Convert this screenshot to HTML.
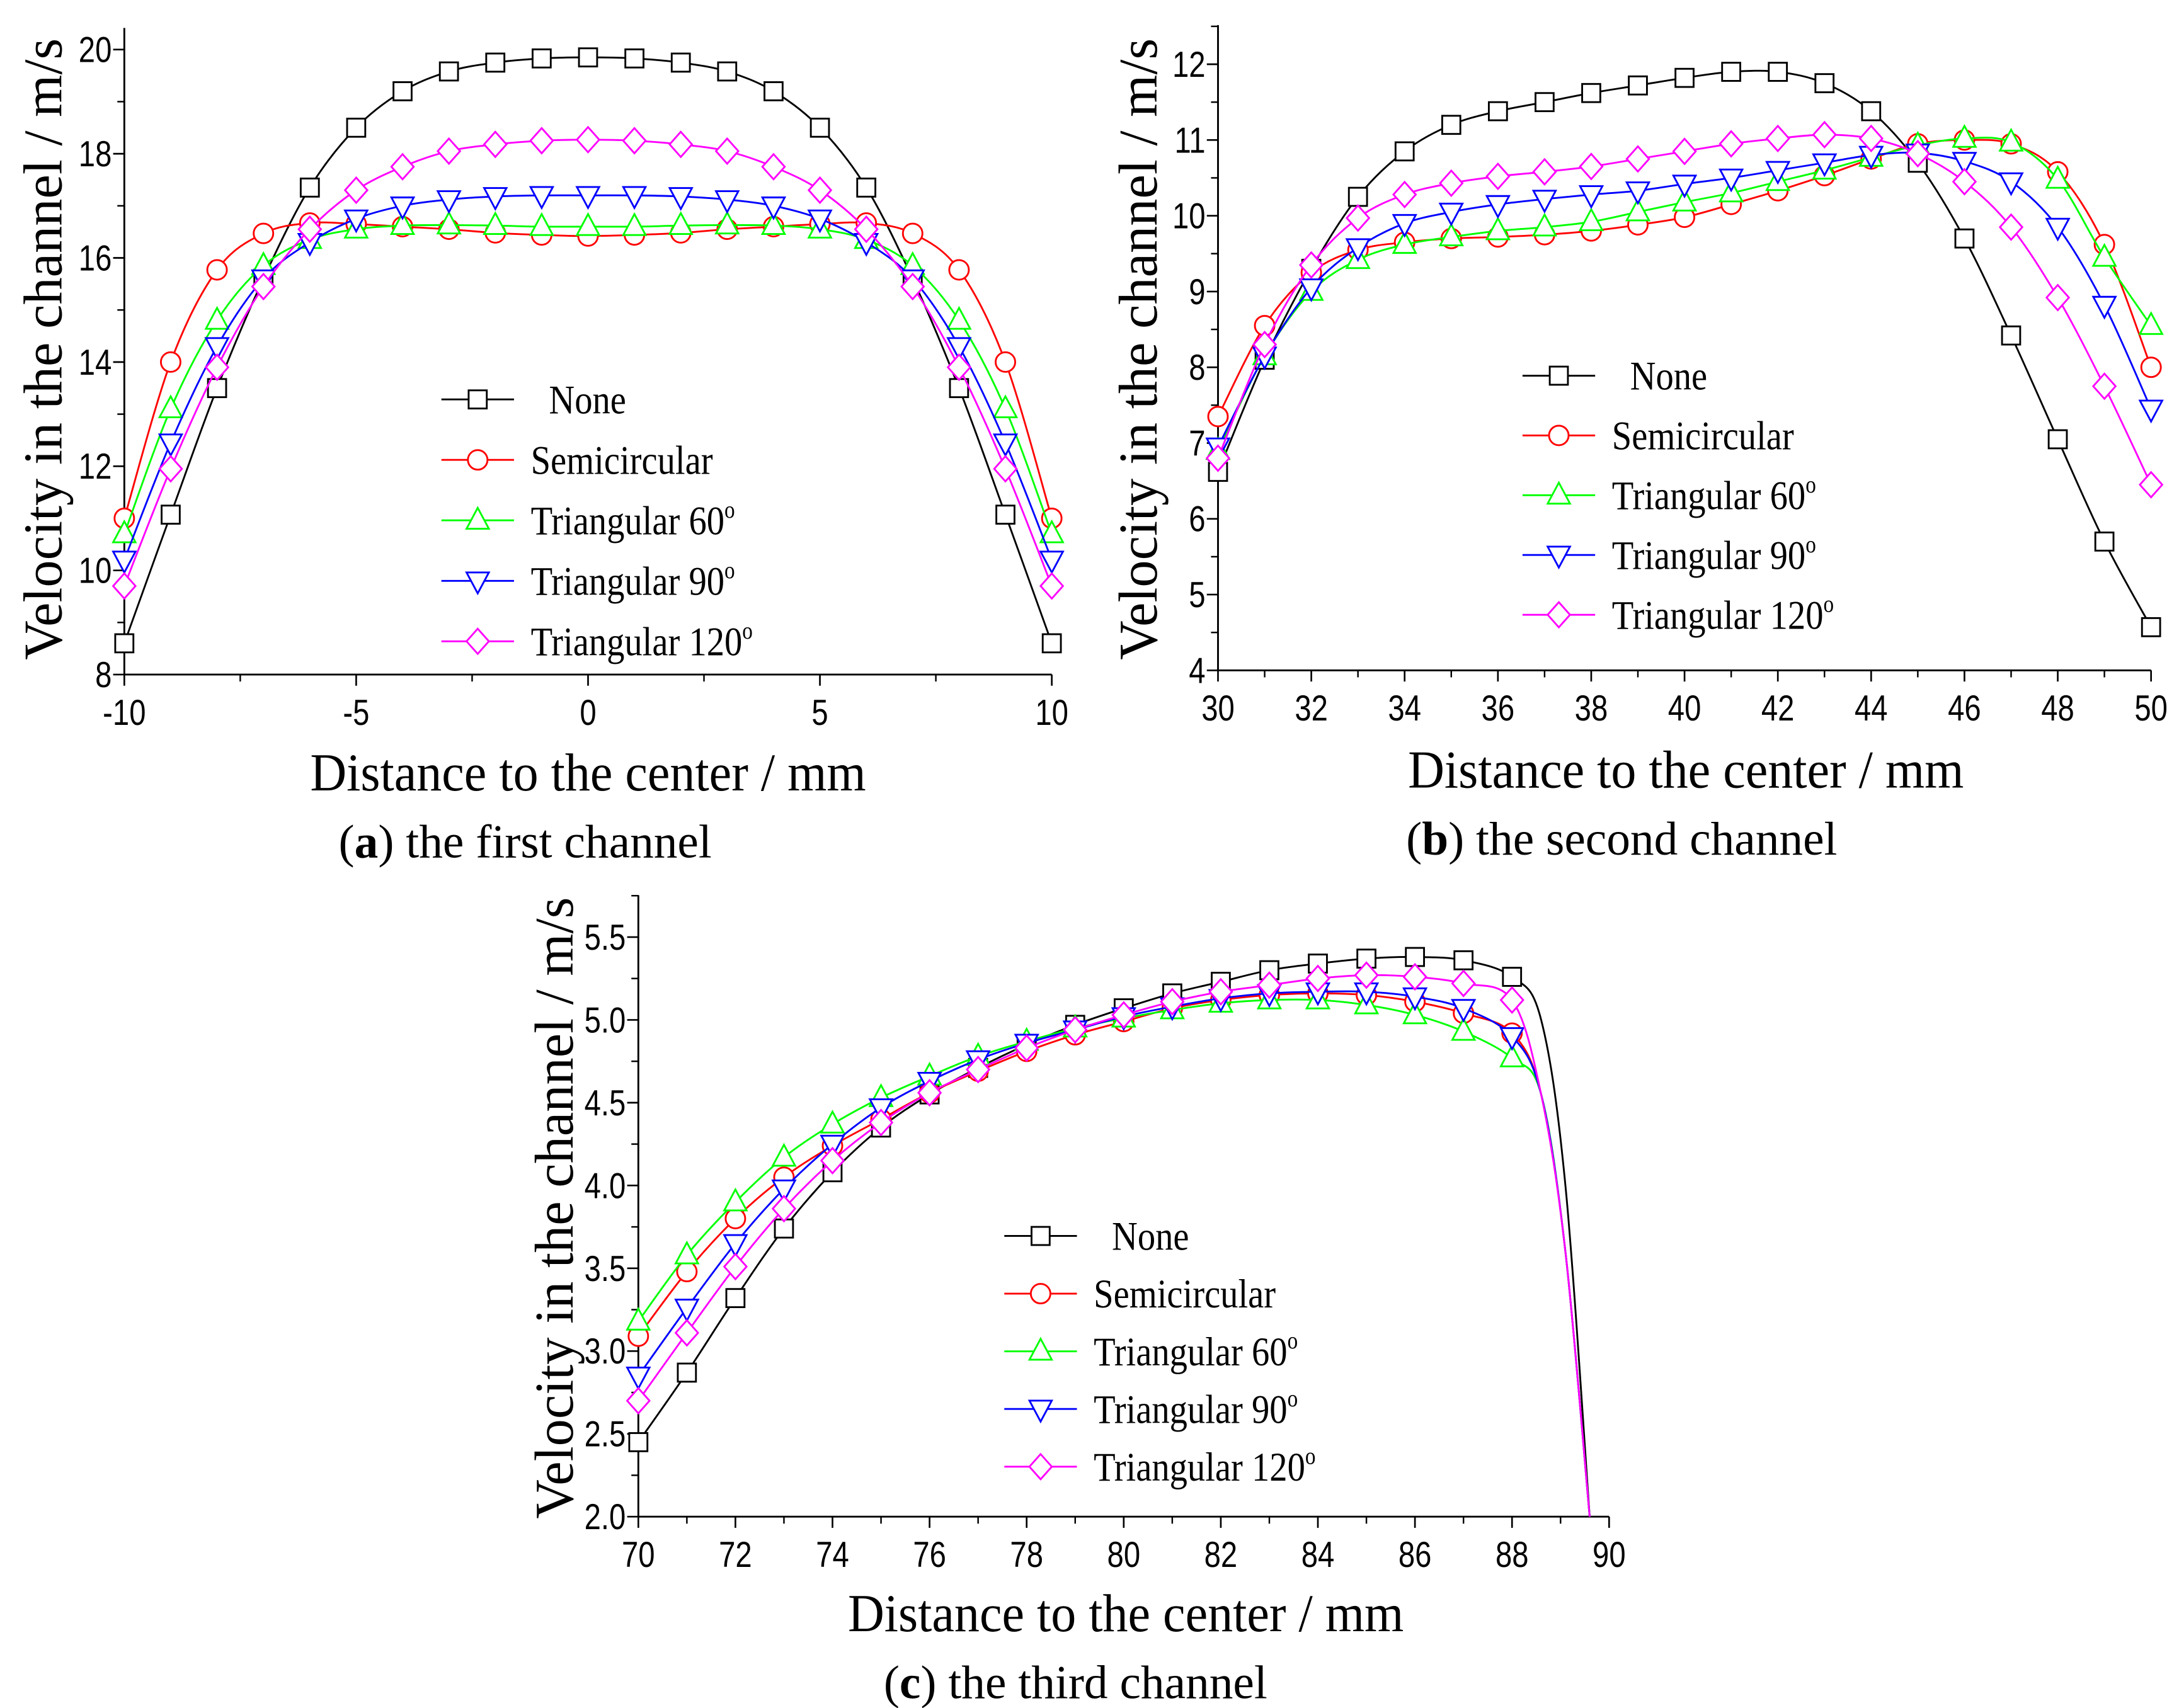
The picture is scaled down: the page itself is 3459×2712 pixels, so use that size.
<!DOCTYPE html>
<html><head><meta charset="utf-8"><style>
html,body{margin:0;padding:0;background:#fff;}
svg{display:block;}
.tick{font-family:"Liberation Sans",sans-serif;font-size:26px;}
.ttl{font-family:"Liberation Serif",serif;font-size:39px;}
.xttl{font-family:"Liberation Serif",serif;font-size:38px;}
.cap{font-family:"Liberation Serif",serif;font-size:34px;}
.leg{font-family:"Liberation Serif",serif;font-size:29px;}
</style></head><body>
<svg id="fig" width="3459" height="2712" viewBox="0 0 1560 1223" preserveAspectRatio="none" xmlns="http://www.w3.org/2000/svg"></svg>
<script>
// ---------- data ----------
const seriesNames = ["None","Semicircular","Triangular 60","Triangular 90","Triangular 120"];
const seriesColors = ["#000","#f00","#0f0","#00f","#f0f"];
const seriesMarkers = ["square","circle","tri-up","tri-down","diamond"];

const xA = [-10,-9,-8,-7,-6,-5,-4,-3,-2,-1,0,1,2,3,4,5,6,7,8,9,10];
const noneA = [8.6,11.07,13.5,15.6,17.35,18.5,19.2,19.58,19.75,19.83,19.85,19.83,19.75,19.58,19.2,18.5,17.35,15.6,13.5,11.07,8.6];
const semiA = [11.0,14.0,15.77,16.47,16.67,16.65,16.6,16.55,16.48,16.44,16.42,16.44,16.48,16.55,16.6,16.65,16.67,16.47,15.77,14.0,11.0];
const tri60A = [10.7,13.1,14.8,15.85,16.35,16.55,16.62,16.63,16.62,16.6,16.6,16.6,16.62,16.63,16.62,16.55,16.35,15.85,14.8,13.1,10.7];
const tri90A = [10.2,12.45,14.3,15.6,16.3,16.75,17.0,17.12,17.18,17.2,17.2,17.2,17.18,17.12,17.0,16.75,16.3,15.6,14.3,12.45,10.2];
const tri120A = [9.7,11.95,13.9,15.45,16.55,17.3,17.75,18.05,18.18,18.25,18.27,18.25,18.18,18.05,17.75,17.3,16.55,15.45,13.9,11.95,9.7];
const xTicksA = [-10,-5,0,5,10];
const yTicksA = [8,10,12,14,16,18,20];

const xB = [30,31,32,33,34,35,36,37,38,39,40,41,42,43,44,45,46,47,48,49,50];
const noneB = [6.62,8.1,9.3,10.25,10.85,11.2,11.38,11.5,11.62,11.72,11.82,11.9,11.9,11.75,11.38,10.7,9.7,8.42,7.05,5.7,4.57];
const semiB = [7.35,8.55,9.25,9.55,9.65,9.7,9.72,9.75,9.8,9.88,9.98,10.15,10.33,10.53,10.75,10.95,11.0,10.95,10.58,9.62,8.0];
const tri60B = [6.9,8.15,9.0,9.42,9.62,9.72,9.8,9.85,9.92,10.05,10.18,10.3,10.45,10.6,10.77,10.93,11.02,10.97,10.48,9.45,8.55];
const tri90B = [6.95,8.15,9.05,9.58,9.9,10.05,10.15,10.22,10.28,10.33,10.42,10.5,10.6,10.7,10.8,10.83,10.72,10.45,9.85,8.82,7.45];
const tri120B = [6.8,8.3,9.35,9.97,10.28,10.43,10.52,10.58,10.65,10.75,10.85,10.95,11.02,11.07,11.02,10.82,10.45,9.85,8.92,7.75,6.45];
const xTicksB = [30,32,34,36,38,40,42,44,46,48,50];
const yTicksB = [4,5,6,7,8,9,10,11,12];

const xC = [70,71,72,73,74,75,76,77,78,79,80,81,82,83,84,85,86,87,88];
const noneC = [2.45,2.87,3.32,3.74,4.08,4.35,4.55,4.71,4.85,4.97,5.07,5.16,5.23,5.3,5.34,5.37,5.38,5.36,5.26];
const semiC = [3.09,3.48,3.8,4.05,4.24,4.4,4.56,4.69,4.81,4.91,4.99,5.07,5.12,5.15,5.16,5.15,5.11,5.04,4.92];
const tri60C = [3.18,3.58,3.9,4.17,4.37,4.53,4.66,4.78,4.87,4.95,5.01,5.06,5.1,5.12,5.12,5.09,5.03,4.93,4.77];
const tri90C = [2.85,3.26,3.65,3.98,4.25,4.47,4.63,4.76,4.86,4.94,5.02,5.08,5.13,5.16,5.17,5.17,5.14,5.07,4.9];
const tri120C = [2.7,3.11,3.51,3.86,4.15,4.38,4.56,4.7,4.83,4.94,5.03,5.11,5.17,5.21,5.25,5.27,5.26,5.22,5.12];
const tailXC = [88.6,89.1,89.6];
const tailNoneC = [5.0,4.0,2.0];
const tailOtherC = [4.55,3.6,2.0];
const xTicksC = [70,72,74,76,78,80,82,84,86,88,90];
const yTicksC = [2.0,2.5,3.0,3.5,4.0,4.5,5.0,5.5];

// ---------- drawing ----------
const NS="http://www.w3.org/2000/svg";
const svg=document.getElementById('fig');
function mk(tag,attrs,parent){const e=document.createElementNS(NS,tag);for(const k in attrs)e.setAttribute(k,attrs[k]);(parent||svg).appendChild(e);return e;}
function smoothPath(pts){
  let d="M"+pts[0][0].toFixed(2)+","+pts[0][1].toFixed(2);
  for(let i=0;i<pts.length-1;i++){
    const p0=pts[Math.max(0,i-1)],p1=pts[i],p2=pts[i+1],p3=pts[Math.min(pts.length-1,i+2)];
    const c1=[p1[0]+(p2[0]-p0[0])/6,p1[1]+(p2[1]-p0[1])/6];
    const c2=[p2[0]-(p3[0]-p1[0])/6,p2[1]-(p3[1]-p1[1])/6];
    d+=" C"+c1[0].toFixed(2)+","+c1[1].toFixed(2)+" "+c2[0].toFixed(2)+","+c2[1].toFixed(2)+" "+p2[0].toFixed(2)+","+p2[1].toFixed(2);
  }
  return d;
}
function marker(g,type,x,y,color){
  let e;const s=7;
  if(type==="square"){e=mk('rect',{x:x-s+0.5,y:y-s+0.5,width:2*s-1,height:2*s-1,fill:'#fff',stroke:color,'stroke-width':1.3},g);}
  else if(type==="circle"){e=mk('circle',{cx:x,cy:y,r:7,fill:'#fff',stroke:color,'stroke-width':1.3},g);}
  else if(type==="tri-up"){e=mk('polygon',{points:`${x},${y-9} ${x-8},${y+6} ${x+8},${y+6}`,fill:'#fff',stroke:color,'stroke-width':1.3},g);}
  else if(type==="tri-down"){e=mk('polygon',{points:`${x},${y+9} ${x-8},${y-6} ${x+8},${y-6}`,fill:'#fff',stroke:color,'stroke-width':1.3},g);}
  else {e=mk('polygon',{points:`${x},${y-9} ${x-8},${y} ${x},${y+9} ${x+8},${y}`,fill:'#fff',stroke:color,'stroke-width':1.3},g);}
  
  
  return e;
}
function panel(cfg){
  const g=mk('g',{});
  
  
  const sx=v=>cfg.px0+(v-cfg.x0)/(cfg.x1-cfg.x0)*(cfg.px1-cfg.px0);
  const sy=v=>cfg.py0+(v-cfg.y0)/(cfg.y1-cfg.y0)*(cfg.py1-cfg.py0);
  const ax=mk('g',{},g);
  mk('line',{x1:cfg.px0,y1:cfg.top,x2:cfg.px0,y2:cfg.py0,stroke:'#000','stroke-width':1.3},ax);
  mk('line',{x1:cfg.px0,y1:cfg.py0,x2:cfg.px1,y2:cfg.py0,stroke:'#000','stroke-width':1.3},ax);
  const xs=cfg.xt;
  for(let i=0;i<xs.length;i++){
    const x=sx(xs[i]);
    mk('line',{x1:x,y1:cfg.py0,x2:x,y2:cfg.py0+8,stroke:'#000','stroke-width':1.2},ax);
    if(i<xs.length-1){const xm=sx((xs[i]+xs[i+1])/2);mk('line',{x1:xm,y1:cfg.py0,x2:xm,y2:cfg.py0+5,stroke:'#000','stroke-width':1.1},ax);}
    const t=mk('text',{x:x,y:cfg.py0+36,'text-anchor':'middle',class:'tick',transform:`translate(${x},0) scale(0.82,1) translate(${-x},0)`},ax);
    t.textContent=xs[i];
    
  }
  const ys=cfg.yt;
  for(let i=0;i<ys.length;i++){
    const y=sy(ys[i]);
    mk('line',{x1:cfg.px0-8,y1:y,x2:cfg.px0,y2:y,stroke:'#000','stroke-width':1.2},ax);
    const nx=i<ys.length-1?ys[i+1]:ys[i]+(ys[i]-ys[i-1]);
    const ym=sy((ys[i]+nx)/2);
    if(ym>=cfg.top) mk('line',{x1:cfg.px0-5,y1:ym,x2:cfg.px0,y2:ym,stroke:'#000','stroke-width':1.1},ax);
    const lx=cfg.px0-9;
    const t=mk('text',{x:lx,y:y+9,'text-anchor':'end',class:'tick',transform:`translate(${lx},0) scale(0.82,1) translate(${-lx},0)`},ax);
    t.textContent=cfg.fmt?ys[i].toFixed(1):ys[i];
    
  }
  cfg.series.forEach((vals,si)=>{
    const sg=mk('g',{},g);
    
    
    let pts=cfg.x.map((xv,i)=>[sx(xv),sy(vals[i])]);
    if(cfg.tails){const tv=cfg.tails[si];pts=pts.concat(cfg.tailX.map((xv,i)=>[sx(xv),sy(tv[i])]));}
    const p=mk('path',{d:smoothPath(pts),fill:'none',stroke:seriesColors[si],'stroke-width':1.3},sg);
    
    cfg.x.forEach((xv,i)=>marker(sg,seriesMarkers[si],sx(xv),sy(vals[i]),seriesColors[si]));
  });
  const lg=mk('g',{},g);
  seriesNames.forEach((n,i)=>{
    const y=cfg.leg.y0+i*cfg.leg.dy;
    const eg=mk('g',{},lg);
    mk('line',{x1:cfg.leg.x,y1:y,x2:cfg.leg.x+52,y2:y,stroke:seriesColors[i],'stroke-width':1.3},eg);
    marker(eg,seriesMarkers[i],cfg.leg.x+26,y,seriesColors[i]);
    const tx=cfg.leg.x+(i===0?77:64);
    const t=mk('text',{x:tx,y:y+10,class:'leg',transform:`translate(${tx},0) scale(0.88,1) translate(${-tx},0)`},eg);
    t.textContent=n;
    if(i>=2){const s=mk('tspan',{dy:-12,'font-size':17},t);s.textContent='o';}
  });
  const yt=mk('text',{x:0,y:0,'text-anchor':'middle',class:'ttl',transform:`translate(${cfg.ytx},${cfg.yty}) rotate(-90)`},g);
  yt.textContent='Velocity in the channel / m/s';
  const xt=mk('text',{x:cfg.xtx,y:cfg.xty,'text-anchor':'middle',class:'xttl',transform:`translate(${cfg.xtx},0) scale(0.95,1) translate(${-cfg.xtx},0)`},g);
  xt.textContent='Distance to the center / mm';
  const cp=mk('text',{x:cfg.xtx+cfg.capdx,y:cfg.xty+48,'text-anchor':'middle',class:'cap'},g);
  
  mk('tspan',{},cp).textContent='(';
  mk('tspan',{'font-weight':'bold'},cp).textContent=cfg.letter;
  mk('tspan',{},cp).textContent=') '+cfg.cap;
}
panel({name:'chart-a',x:xA,series:[noneA,semiA,tri60A,tri90A,tri120A],x0:-10,x1:10,px0:89,px1:753,y0:8,y1:20,py0:483,py1:35.5,top:20,xt:xTicksA,yt:yTicksA,
  leg:{x:316,y0:286,dy:43.3},ytx:44,yty:250,xtx:421,xty:566,capdx:-45,letter:'a',cap:'the first channel'});
panel({name:'chart-b',x:xB,series:[noneB,semiB,tri60B,tri90B,tri120B],x0:30,x1:50,px0:872,px1:1540,y0:4,y1:12,py0:480,py1:46,top:18,xt:xTicksB,yt:yTicksB,
  leg:{x:1090,y0:269,dy:42.8},ytx:828,yty:250,xtx:1207,xty:564,capdx:-46,letter:'b',cap:'the second channel'});
panel({name:'chart-c',x:xC,series:[noneC,semiC,tri60C,tri90C,tri120C],x0:70,x1:90,px0:457,px1:1152,y0:2,y1:5.5,py0:1086,py1:671,top:641,xt:xTicksC,yt:yTicksC,fmt:true,
  tailX:tailXC,tails:[tailNoneC,tailOtherC,tailOtherC,tailOtherC,tailOtherC],
  leg:{x:719,y0:885,dy:41.3},ytx:410,yty:865,xtx:806,xty:1168,capdx:-36,letter:'c',cap:'the third channel'});
</script>
</body></html>
